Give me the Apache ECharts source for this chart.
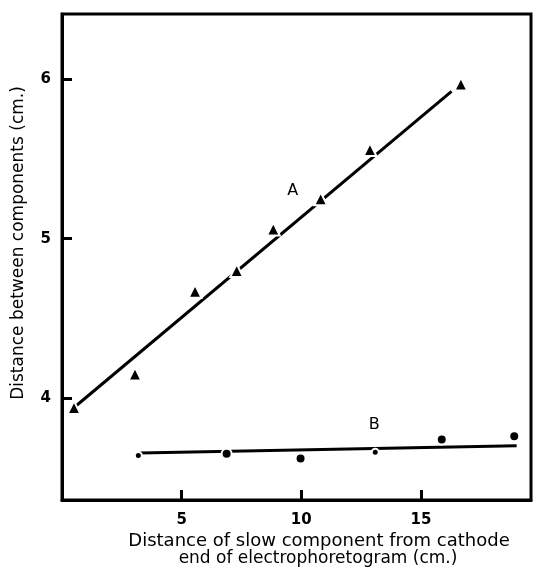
<!DOCTYPE html>
<html>
<head>
<meta charset="utf-8">
<script src="https://cdn.jsdelivr.net/npm/echarts@6/dist/echarts.min.js"></script>
<style>
  html, body { margin: 0; padding: 0; background: #fff; }
  #chart { width: 537px; height: 569px; }
</style>
</head>
<body>
<div id="chart"></div>
<script>
// series A: triangles, series B: dots (x = slow component distance, y = separation)
const pointsA = [[0.5, 3.94], [3.05, 4.15], [5.56, 4.67], [7.3, 4.8], [8.83, 5.06], [10.81, 5.25], [12.87, 5.56], [16.67, 5.97]];
const pointsB = [[3.19, 3.64], [6.88, 3.65], [9.97, 3.62], [13.09, 3.66], [15.87, 3.74], [18.9, 3.76]];
// fitted straight lines
const lineA = [[0.58, 3.95], [16.28, 5.925]];
const lineB = [[3.26, 3.655], [19.0, 3.70]];
const xTicks = [5, 10, 15];
const yTicks = [4, 5, 6];
const labels = [{ name: 'A', coord: [9.64, 5.30] }, { name: 'B', coord: [13.05, 3.83] }];

const font = 'DejaVu Sans';
const chart = echarts.init(document.getElementById('chart'));

const option = {
  animation: false,
  backgroundColor: '#fff',
  grid: {
    left: 62, right: 6, top: 14, bottom: 69,
    show: true, borderColor: '#000', borderWidth: 3, backgroundColor: 'transparent'
  },
  xAxis: {
    type: 'value', min: 0, max: 19.6,
    splitLine: { show: false },
    axisLine: { show: true, lineStyle: { color: '#000', width: 3 } },
    axisTick: { show: true, inside: true, length: 10, customValues: xTicks, lineStyle: { color: '#000', width: 3 } },
    axisLabel: { customValues: xTicks, color: '#000', fontFamily: font, fontSize: 15, fontWeight: 'bold', margin: 13 }
  },
  yAxis: {
    type: 'value', min: 3.36, max: 6.41,
    splitLine: { show: false },
    axisLine: { show: true, lineStyle: { color: '#000', width: 3 } },
    axisTick: { show: true, inside: true, length: 10, customValues: yTicks, lineStyle: { color: '#000', width: 3 } },
    axisLabel: { customValues: yTicks, color: '#000', fontFamily: font, fontSize: 15, fontWeight: 'bold', margin: 11 }
  },
  series: [
    {
      type: 'line', data: lineA, symbol: 'none', z: 1,
      lineStyle: { color: '#000', width: 3 }
    },
    {
      type: 'line', data: lineB, symbol: 'none', z: 1,
      lineStyle: { color: '#000', width: 3 }
    },
    {
      type: 'scatter', data: pointsA, symbol: 'triangle', symbolSize: 13, z: 3,
      itemStyle: { color: '#000', opacity: 1, borderColor: '#fff', borderWidth: 2 }
    },
    {
      type: 'scatter', data: pointsB, symbol: 'circle', z: 3,
      symbolSize: (v, p) => (p.dataIndex === 0 || p.dataIndex === 3 ? 7 : 10),
      itemStyle: { color: '#000', opacity: 1, borderColor: '#fff', borderWidth: 2 }
    },
    {
      type: 'scatter', data: labels.map(l => ({ value: l.coord, name: l.name })), symbolSize: 0,
      itemStyle: { opacity: 1 },
      label: { show: true, position: 'inside', formatter: '{b}', color: '#000', fontFamily: font, fontSize: 16 }
    }
  ],
  graphic: [
    {
      type: 'text', x: 19, y: 243, rotation: Math.PI / 2, originX: 0, originY: 0,
      style: { text: 'Distance between components (cm.)', fill: '#000', font: '17px "' + font + '"', textAlign: 'center', textVerticalAlign: 'middle' }
    },
    {
      type: 'text', x: 319, y: 541,
      style: { text: 'Distance of slow component from cathode', fill: '#000', font: '18px "' + font + '"', textAlign: 'center', textVerticalAlign: 'middle' }
    },
    {
      type: 'text', x: 318, y: 559,
      style: { text: 'end of electrophoretogram (cm.)', fill: '#000', font: '17px "' + font + '"', textAlign: 'center', textVerticalAlign: 'middle' }
    }
  ]
};
chart.setOption(option);
</script>
</body>
</html>
